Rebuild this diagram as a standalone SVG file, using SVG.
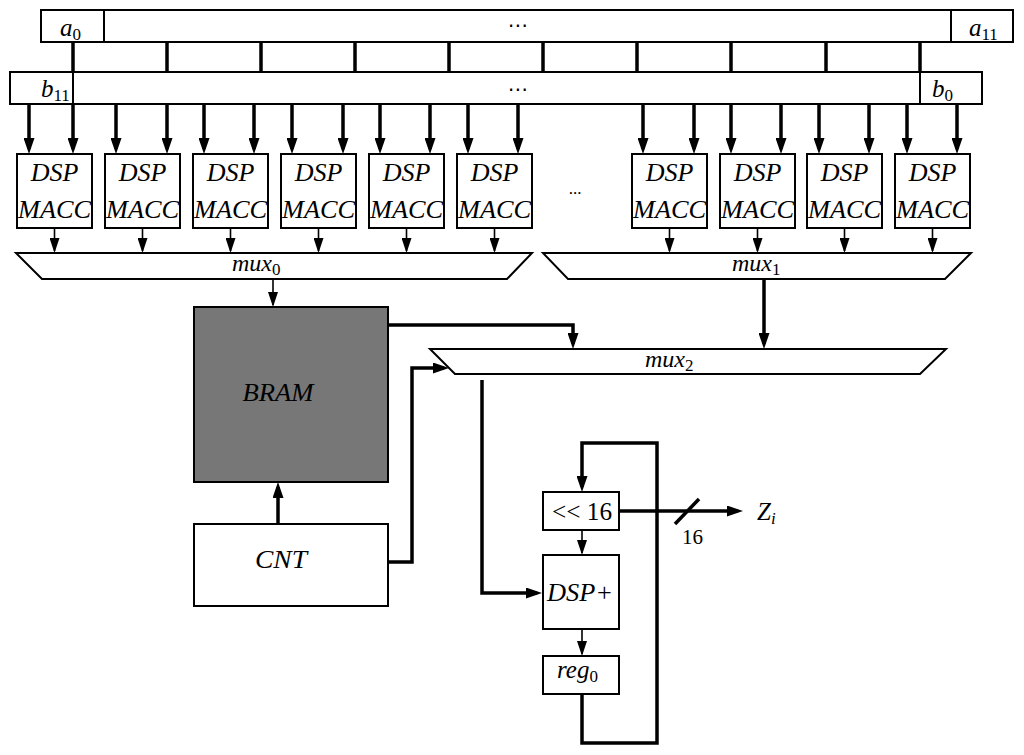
<svg xmlns="http://www.w3.org/2000/svg" width="1024" height="755" viewBox="0 0 1024 755">
<defs>
<style>
.box{fill:#fff;stroke:#000;stroke-width:2}
.bram{fill:#777;stroke:#000;stroke-width:2}
.sep{stroke:#000;stroke-width:2}
.thick{fill:none;stroke:#000;stroke-width:3.5}
.thin{fill:none;stroke:#000;stroke-width:1.6}
.m{font-family:"Liberation Serif",serif;font-style:italic;font-size:25px;fill:#000}
.r{font-family:"Liberation Serif",serif;font-style:normal;font-size:25px;fill:#000}
.d{font-family:"Liberation Serif",serif;font-style:italic;font-size:26px;fill:#000;text-anchor:middle}
.s{font-style:normal;font-size:17px}
.si{font-style:italic;font-size:17px}
.dots{font-family:"DejaVu Sans",sans-serif;font-size:20px;fill:#000;text-anchor:middle}
</style>
<marker id="ah" viewBox="0 0 16 11" refX="11" refY="5.5" markerWidth="16" markerHeight="11" markerUnits="userSpaceOnUse" orient="auto"><path d="M0,0 L16,5.5 L0,11 z"/></marker>
<marker id="ahs" viewBox="0 0 15 10" refX="13" refY="5" markerWidth="15" markerHeight="10" markerUnits="userSpaceOnUse" orient="auto"><path d="M0,0 L15,5 L0,10 z"/></marker>
</defs>
<rect width="1024" height="755" fill="#fff"/>

<g id="bar-a">
<rect class="box" x="41" y="10" width="972" height="32"/>
<line class="sep" x1="104" y1="10" x2="104" y2="42"/>
<line class="sep" x1="951" y1="10" x2="951" y2="42"/>
<text class="m" x="60" y="36">a<tspan class="s" dy="4">0</tspan></text>
<text class="dots" x="518" y="32">⋯</text>
<text class="m" x="969" y="36">a<tspan class="s" dy="4">11</tspan></text>
</g>

<g id="bar-b">
<rect class="box" x="10" y="72" width="972" height="32"/>
<line class="sep" x1="73" y1="72" x2="73" y2="104"/>
<line class="sep" x1="920" y1="72" x2="920" y2="104"/>
<text class="m" x="41" y="97">b<tspan class="s" dy="4">11</tspan></text>
<text class="dots" x="518" y="96">⋯</text>
<text class="m" x="932" y="97">b<tspan class="s" dy="4">0</tspan></text>
</g>

<g id="dsp1"><rect class="box" x="17" y="154" width="75" height="74"/><text class="d" x="54.5" y="181">DSP</text><text class="d" x="54.5" y="218" textLength="73" lengthAdjust="spacingAndGlyphs">MACC</text></g>
<g id="dsp2"><rect class="box" x="105" y="154" width="75" height="74"/><text class="d" x="142.5" y="181">DSP</text><text class="d" x="142.5" y="218" textLength="73" lengthAdjust="spacingAndGlyphs">MACC</text></g>
<g id="dsp3"><rect class="box" x="193" y="154" width="75" height="74"/><text class="d" x="230.5" y="181">DSP</text><text class="d" x="230.5" y="218" textLength="73" lengthAdjust="spacingAndGlyphs">MACC</text></g>
<g id="dsp4"><rect class="box" x="281" y="154" width="75" height="74"/><text class="d" x="318.5" y="181">DSP</text><text class="d" x="318.5" y="218" textLength="73" lengthAdjust="spacingAndGlyphs">MACC</text></g>
<g id="dsp5"><rect class="box" x="369" y="154" width="75" height="74"/><text class="d" x="406.5" y="181">DSP</text><text class="d" x="406.5" y="218" textLength="73" lengthAdjust="spacingAndGlyphs">MACC</text></g>
<g id="dsp6"><rect class="box" x="457" y="154" width="75" height="74"/><text class="d" x="494.5" y="181">DSP</text><text class="d" x="494.5" y="218" textLength="73" lengthAdjust="spacingAndGlyphs">MACC</text></g>
<g id="dsp-gap"><text x="575" y="194" style="font-family:'Liberation Serif',serif;font-size:17px;text-anchor:middle">...</text></g>
<g id="dsp7"><rect class="box" x="632" y="154" width="75" height="74"/><text class="d" x="669.5" y="181">DSP</text><text class="d" x="669.5" y="218" textLength="73" lengthAdjust="spacingAndGlyphs">MACC</text></g>
<g id="dsp8"><rect class="box" x="720" y="154" width="75" height="74"/><text class="d" x="757.5" y="181">DSP</text><text class="d" x="757.5" y="218" textLength="73" lengthAdjust="spacingAndGlyphs">MACC</text></g>
<g id="dsp9"><rect class="box" x="807" y="154" width="75" height="74"/><text class="d" x="844.5" y="181">DSP</text><text class="d" x="844.5" y="218" textLength="73" lengthAdjust="spacingAndGlyphs">MACC</text></g>
<g id="dsp10"><rect class="box" x="895" y="154" width="75" height="74"/><text class="d" x="932.5" y="181">DSP</text><text class="d" x="932.5" y="218" textLength="73" lengthAdjust="spacingAndGlyphs">MACC</text></g>

<g id="mux0"><polygon class="box" points="16,253 532,253 507,279 42,279"/><text class="m" x="232" y="271" style="font-size:24px">mux<tspan class="s" dy="4">0</tspan></text></g>
<g id="mux1"><polygon class="box" points="543,253 971,253 945,279 568,279"/><text class="m" x="732" y="271" style="font-size:24px">mux<tspan class="s" dy="4">1</tspan></text></g>
<g id="mux2"><polygon class="box" points="430,349 946,349 920,374 455,374"/><text class="m" x="645" y="367" style="font-size:24px">mux<tspan class="s" dy="4">2</tspan></text></g>

<g id="bram"><rect class="bram" x="194" y="307" width="194" height="175"/><text class="m" x="278" y="401" text-anchor="middle" textLength="71" lengthAdjust="spacingAndGlyphs" style="font-size:26px">BRAM</text></g>
<g id="cnt"><rect class="box" x="194" y="524" width="194" height="82"/><text class="m" x="281" y="568" text-anchor="middle" textLength="52" lengthAdjust="spacingAndGlyphs" style="font-size:26px">CNT</text></g>

<g id="shift"><rect class="box" x="543" y="492" width="76" height="38"/><text class="r" x="582" y="520" text-anchor="middle" textLength="60" lengthAdjust="spacingAndGlyphs">&lt;&lt; 16</text></g>
<g id="dspadd"><rect class="box" x="543" y="555" width="76" height="74"/><text class="m" x="580" y="601" text-anchor="middle" textLength="66" lengthAdjust="spacingAndGlyphs" style="font-size:26px">DSP+</text></g>
<g id="reg0"><rect class="box" x="543" y="656" width="76" height="38"/><text class="m" x="557" y="678">reg<tspan class="s" dy="4">0</tspan></text></g>

<g id="output-label">
<text class="m" x="757" y="520">Z<tspan class="si" dy="4">i</tspan></text>
<text class="r" x="682" y="544" style="font-size:21px">16</text>
</g>

<g id="connectors">
<g class="thick">
<line x1="73" y1="42" x2="73" y2="72"/><line x1="167" y1="42" x2="167" y2="72"/><line x1="261" y1="42" x2="261" y2="72"/><line x1="355" y1="42" x2="355" y2="72"/><line x1="449" y1="42" x2="449" y2="72"/><line x1="543" y1="42" x2="543" y2="72"/><line x1="637" y1="42" x2="637" y2="72"/><line x1="731" y1="42" x2="731" y2="72"/><line x1="826" y1="42" x2="826" y2="72"/><line x1="920" y1="42" x2="920" y2="72"/>
</g>
<g class="thick" marker-end="url(#ah)">
<line x1="29" y1="104" x2="29" y2="149"/><line x1="73" y1="104" x2="73" y2="149"/>
<line x1="116" y1="104" x2="116" y2="149"/><line x1="167" y1="104" x2="167" y2="149"/>
<line x1="204" y1="104" x2="204" y2="149"/><line x1="254" y1="104" x2="254" y2="149"/>
<line x1="292" y1="104" x2="292" y2="149"/><line x1="343" y1="104" x2="343" y2="149"/>
<line x1="380" y1="104" x2="380" y2="149"/><line x1="430" y1="104" x2="430" y2="149"/>
<line x1="468" y1="104" x2="468" y2="149"/><line x1="518" y1="104" x2="518" y2="149"/>
<line x1="643" y1="104" x2="643" y2="149"/><line x1="694" y1="104" x2="694" y2="149"/>
<line x1="731" y1="104" x2="731" y2="149"/><line x1="781" y1="104" x2="781" y2="149"/>
<line x1="819" y1="104" x2="819" y2="149"/><line x1="869" y1="104" x2="869" y2="149"/>
<line x1="907" y1="104" x2="907" y2="149"/><line x1="957" y1="104" x2="957" y2="149"/>
</g>
<g class="thin" marker-end="url(#ahs)">
<line x1="54.5" y1="228" x2="54.5" y2="251"/><line x1="142.5" y1="228" x2="142.5" y2="251"/><line x1="230.5" y1="228" x2="230.5" y2="251"/><line x1="318.5" y1="228" x2="318.5" y2="251"/><line x1="406.5" y1="228" x2="406.5" y2="251"/><line x1="494.5" y1="228" x2="494.5" y2="251"/>
<line x1="669.5" y1="228" x2="669.5" y2="251"/><line x1="757.5" y1="228" x2="757.5" y2="251"/><line x1="844.5" y1="228" x2="844.5" y2="251"/><line x1="932.5" y1="228" x2="932.5" y2="251"/>
<line x1="273" y1="279" x2="273" y2="305"/>
<line x1="582" y1="530" x2="582" y2="553"/>
<line x1="582" y1="629" x2="582" y2="654"/>
</g>
<g class="thick" marker-end="url(#ah)">
<line x1="278" y1="524" x2="278" y2="487"/>
<polyline points="388,325 573,325 573,344"/>
<line x1="764" y1="279" x2="764" y2="344"/>
<polyline points="388,562 412,562 412,368 444,368"/>
<polyline points="482,380 482,593 537,593"/>
<polyline points="582,694 582,743 657,743 657,443 582,443 582,487"/>
<line x1="619" y1="511" x2="738" y2="511"/>
</g>
<line class="thick" x1="675" y1="524" x2="699" y2="499"/>
</g>
</svg>
